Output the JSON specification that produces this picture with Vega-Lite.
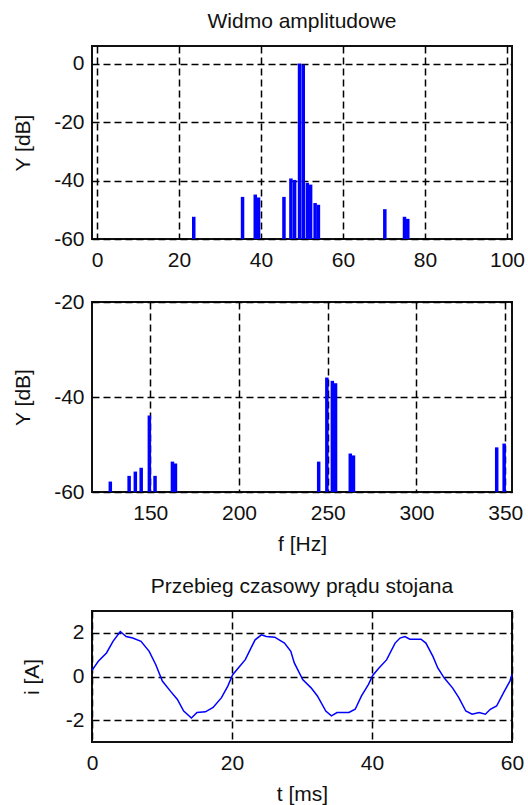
{
  "$schema": "https://vega.github.io/schema/vega-lite/v6.json",
  "background": "white",
  "padding": {"left": 11, "top": 10, "right": 2, "bottom": 2},
  "config": {
    "font": "Liberation Sans",
    "view": {"stroke": "#111", "strokeWidth": 2},
    "axis": {
      "grid": true, "gridColor": "black", "gridDash": [7, 4], "gridWidth": 1.5, "gridOpacity": 1,
      "domain": false, "ticks": false,
      "labelFontSize": 21, "labelColor": "#111", "labelFlush": false, "labelOverlap": false,
      "titleFontSize": 21, "titleFontWeight": "normal", "titleColor": "#111"
    },
    "axisX": {"labelPadding": 10, "titlePadding": 10},
    "axisY": {"labelPadding": 8, "titlePadding": 20},
    "title": {"fontSize": 21, "fontWeight": "normal", "color": "#111", "offset": 14, "anchor": "middle"}
  },
  "datasets": {
    "spec1": [
      {"f": 23.6, "dB": -52.4}, {"f": 35.5, "dB": -45.6}, {"f": 38.6, "dB": -44.8}, {"f": 39.4, "dB": -45.8},
      {"f": 45.6, "dB": -45.6}, {"f": 47.3, "dB": -39.3}, {"f": 48.2, "dB": -39.8}, {"f": 49.4, "dB": 0},
      {"f": 50.3, "dB": -0.4}, {"f": 51.3, "dB": -40.8}, {"f": 52.1, "dB": -41.4}, {"f": 53.2, "dB": -47.7},
      {"f": 54.0, "dB": -48.3}, {"f": 70.2, "dB": -49.8}, {"f": 75.0, "dB": -52.4}, {"f": 75.8, "dB": -53.1}
    ],
    "spec2": [
      {"f": 127.5, "dB": -57.8}, {"f": 138.1, "dB": -56.6}, {"f": 141.6, "dB": -55.7}, {"f": 144.9, "dB": -54.9},
      {"f": 149.5, "dB": -43.9}, {"f": 152.7, "dB": -56.6}, {"f": 162.5, "dB": -53.6}, {"f": 164.2, "dB": -54.0},
      {"f": 244.9, "dB": -53.6}, {"f": 249.5, "dB": -35.9}, {"f": 252.6, "dB": -36.6}, {"f": 254.4, "dB": -37.1},
      {"f": 262.7, "dB": -51.9}, {"f": 264.5, "dB": -52.3}, {"f": 345.2, "dB": -50.6}, {"f": 349.4, "dB": -49.8}
    ],
    "wave": [
      {"t": 0, "i": 0.28}, {"t": 0.9, "i": 0.7}, {"t": 2.07, "i": 1.08}, {"t": 3.0, "i": 1.61},
      {"t": 4.04, "i": 2.06}, {"t": 4.88, "i": 1.83}, {"t": 5.82, "i": 1.76}, {"t": 7.0, "i": 1.61},
      {"t": 8.17, "i": 1.15}, {"t": 9.1, "i": 0.55}, {"t": 10.05, "i": -0.21}, {"t": 11.2, "i": -0.67},
      {"t": 12.2, "i": -1.05}, {"t": 13.1, "i": -1.58}, {"t": 14.2, "i": -1.9}, {"t": 15.0, "i": -1.65},
      {"t": 16.2, "i": -1.62}, {"t": 17.3, "i": -1.42}, {"t": 18.5, "i": -0.97}, {"t": 19.4, "i": -0.44},
      {"t": 20.1, "i": 0.08}, {"t": 20.9, "i": 0.39}, {"t": 21.9, "i": 0.77}, {"t": 22.6, "i": 1.23},
      {"t": 23.3, "i": 1.68}, {"t": 24.2, "i": 1.91}, {"t": 24.9, "i": 1.83}, {"t": 26.1, "i": 1.8},
      {"t": 27.5, "i": 1.53}, {"t": 28.4, "i": 1.15}, {"t": 28.9, "i": 0.62}, {"t": 30.1, "i": -0.14},
      {"t": 31.3, "i": -0.52}, {"t": 32.2, "i": -0.89}, {"t": 33.4, "i": -1.58}, {"t": 34.2, "i": -1.8},
      {"t": 35.0, "i": -1.65}, {"t": 36.7, "i": -1.65}, {"t": 37.6, "i": -1.5}, {"t": 38.5, "i": -0.89},
      {"t": 39.5, "i": -0.36}, {"t": 40.1, "i": 0.05}, {"t": 40.9, "i": 0.35}, {"t": 42.1, "i": 0.77},
      {"t": 43.3, "i": 1.53}, {"t": 44.0, "i": 1.76}, {"t": 44.7, "i": 1.83}, {"t": 45.4, "i": 1.71},
      {"t": 47.0, "i": 1.71}, {"t": 47.7, "i": 1.53}, {"t": 48.7, "i": 0.92}, {"t": 49.4, "i": 0.39},
      {"t": 50.3, "i": -0.06}, {"t": 51.5, "i": -0.52}, {"t": 52.4, "i": -0.97}, {"t": 53.4, "i": -1.58},
      {"t": 54.3, "i": -1.73}, {"t": 55.3, "i": -1.65}, {"t": 56.2, "i": -1.73}, {"t": 56.9, "i": -1.5},
      {"t": 57.8, "i": -1.35}, {"t": 58.8, "i": -0.74}, {"t": 59.7, "i": -0.21}, {"t": 60, "i": 0.09}
    ]
  },
  "spacing": 20,
  "vconcat": [
    {
      "bounds": "flush",
      "spacing": 63,
      "vconcat": [
        {
          "title": "Widmo amplitudowe",
          "width": 420, "height": 193,
          "data": {"name": "spec1"},
          "mark": {"type": "bar", "size": 3.5, "color": "#0000ff"},
          "encoding": {
            "x": {"field": "f", "type": "quantitative", "scale": {"domain": [0, 100], "nice": false},
                  "axis": {"title": null, "values": [0, 20, 40, 60, 80, 100]}},
            "y": {"field": "dB", "type": "quantitative", "scale": {"domain": [-60, 6], "nice": false, "zero": false},
                  "axis": {"title": "Y [dB]", "values": [-60, -40, -20, 0], "labelExpr": "'' + datum.value"}},
            "y2": {"datum": -60}
          }
        },
        {
          "width": 420, "height": 190,
          "data": {"name": "spec2"},
          "mark": {"type": "bar", "size": 3.5, "color": "#0000ff"},
          "encoding": {
            "x": {"field": "f", "type": "quantitative", "scale": {"domain": [120, 351], "nice": false, "zero": false},
                  "axis": {"title": "f [Hz]", "values": [150, 200, 250, 300, 350]}},
            "y": {"field": "dB", "type": "quantitative", "scale": {"domain": [-60, -20], "nice": false, "zero": false},
                  "axis": {"title": "Y [dB]", "values": [-60, -40, -20], "labelExpr": "'' + datum.value"}},
            "y2": {"datum": -60}
          }
        }
      ]
    },
    {
      "title": "Przebieg czasowy prądu stojana",
      "width": 420, "height": 131,
      "data": {"name": "wave"},
      "mark": {"type": "line", "color": "#0000ff", "strokeWidth": 1.5},
      "encoding": {
        "x": {"field": "t", "type": "quantitative", "scale": {"domain": [0, 60], "nice": false},
              "axis": {"title": "t [ms]", "values": [0, 20, 40, 60]}},
        "y": {"field": "i", "type": "quantitative", "scale": {"domain": [-3, 3], "nice": false},
              "axis": {"title": "i [A]", "values": [-2, 0, 2], "labelExpr": "'' + datum.value", "labelPadding": 8, "titlePadding": 23}}
      }
    }
  ]
}
